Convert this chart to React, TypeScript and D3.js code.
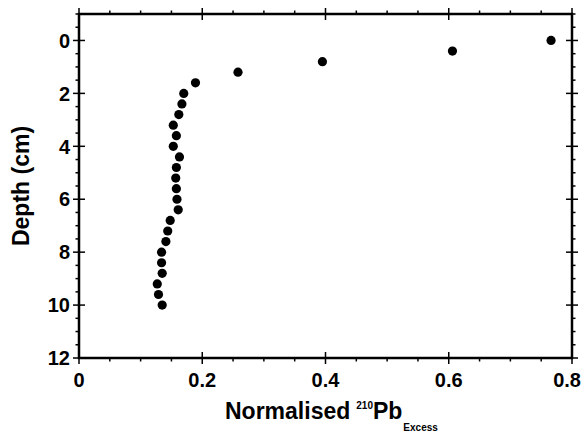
import React from "react";
import * as d3 from "d3";

const depths = [
  0, 0.4, 0.8, 1.2, 1.6, 2.0, 2.4, 2.8, 3.2, 3.6, 4.0, 4.4, 4.8, 5.2, 5.6, 6.0,
  6.4, 6.8, 7.2, 7.6, 8.0, 8.4, 8.8, 9.2, 9.6, 10.0,
];
const pbExcess = [
  0.766, 0.606, 0.395, 0.258, 0.189, 0.17, 0.167, 0.162, 0.153, 0.158, 0.153,
  0.163, 0.158, 0.157, 0.158, 0.159, 0.161, 0.148, 0.144, 0.141, 0.134, 0.134,
  0.135, 0.127, 0.129, 0.135,
];
const xMajor = [0, 0.2, 0.4, 0.6, 0.8];
const xMinor = [0.05, 0.1, 0.15, 0.25, 0.3, 0.35, 0.45, 0.5, 0.55, 0.65, 0.7, 0.75];
const yMajor = [0, 2, 4, 6, 8, 10, 12];
const yMinor = [-1, -0.5, 0.5, 1, 1.5, 2.5, 3, 3.5, 4.5, 5, 5.5, 6.5, 7, 7.5, 8.5, 9, 9.5, 10.5, 11, 11.5];

const width = 582;
const height = 435;
const margin = { top: 14, right: 10, bottom: 77, left: 79 };

const App = () => {
  const x = d3.scaleLinear().domain([0, 0.8]).range([margin.left, width - margin.right]);
  const y = d3.scaleLinear().domain([-1, 12]).range([margin.top, height - margin.bottom]);
  const x0 = x(0);
  const x1 = x(0.8);
  const y0 = y(-1);
  const y1 = y(12);
  const font = "'Liberation Sans', Arial, Helvetica, sans-serif";
  const big = 6;
  const small = 3.5;

  return (
    <svg
      width={width}
      height={height}
      style={{ position: "absolute", left: 0, top: 0, background: "#fff" }}
      fontFamily={font}
      fontWeight="bold"
    >
      <g stroke="#000" strokeWidth={1.5}>
        {xMajor.map((v) => (
          <g key={"xm" + v}>
            <line x1={x(v)} x2={x(v)} y1={y1 - big} y2={y1 + big} />
            <line x1={x(v)} x2={x(v)} y1={y0 - big} y2={y0 + big} />
          </g>
        ))}
        {xMinor.map((v) => (
          <g key={"xn" + v}>
            <line x1={x(v)} x2={x(v)} y1={y1} y2={y1 + small} />
            <line x1={x(v)} x2={x(v)} y1={y0} y2={y0 - small} />
          </g>
        ))}
        {yMajor.map((v) => (
          <g key={"ym" + v}>
            <line x1={x0 - big} x2={x0 + big} y1={y(v)} y2={y(v)} />
            <line x1={x1 - big} x2={x1 + big} y1={y(v)} y2={y(v)} />
          </g>
        ))}
        {yMinor.map((v) => (
          <g key={"yn" + v}>
            <line x1={x0 - small} x2={x0} y1={y(v)} y2={y(v)} />
            <line x1={x1} x2={x1 + small} y1={y(v)} y2={y(v)} />
          </g>
        ))}
      </g>
      <rect
        x={x0}
        y={y0}
        width={x1 - x0}
        height={y1 - y0}
        fill="none"
        stroke="#000"
        strokeWidth={2.5}
      />
      <g fontSize={20} fill="#000">
        {xMajor.map((v, i) => {
          const last = i === xMajor.length - 1;
          return (
            <text
              key={"xl" + v}
              x={last ? width - 1 : x(v)}
              y={y1 + 29}
              textAnchor={last ? "end" : "middle"}
            >
              {v === 0 ? "0" : d3.format(".1f")(v)}
            </text>
          );
        })}
        {yMajor.map((v) => (
          <text key={"yl" + v} x={x0 - 9} y={y(v)} dy="0.36em" textAnchor="end">
            {v}
          </text>
        ))}
      </g>
      <g fill="#000">
        {depths.map((d, i) => (
          <circle key={i} cx={x(pbExcess[i])} cy={y(d)} r={4.6} />
        ))}
      </g>
      <text x={225} y={419} fontSize={23} fill="#000">
        Normalised
        <tspan dx={6} dy={-10} fontSize={10}>
          210
        </tspan>
        <tspan dy={10} fontSize={23}>Pb</tspan>
        <tspan dx={1} dy={12} fontSize={10}>
          Excess
        </tspan>
      </text>
      <text
        transform={`translate(29,${(y0 + y1) / 2}) rotate(-90)`}
        textAnchor="middle"
        fontSize={23}
        fill="#000"
      >
        Depth (cm)
      </text>
    </svg>
  );
};

export default App;
